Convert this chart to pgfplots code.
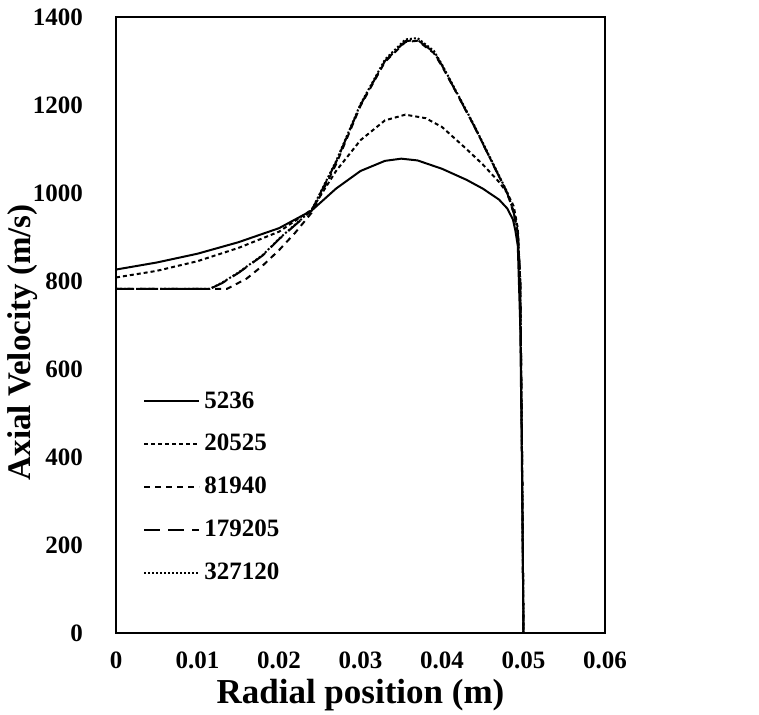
\documentclass[border=0pt]{standalone}
\usepackage{pgfplots}
\pgfplotsset{compat=1.18}
\usepackage{fontspec}
\setmainfont{Liberation Serif}
\begin{document}
\begin{tikzpicture}[x=0.5pt,y=0.5pt]
\useasboundingbox (0,0) rectangle (759,715);
\begin{axis}[
  at={(58pt,41pt)}, anchor=south west,
  scale only axis, width=244.5pt, height=308pt,
  xmin=0, xmax=0.06, ymin=0, ymax=1400,
  xtick={0,0.01,...,0.06}, ytick={0,200,...,1400},
  xticklabels={0,0.01,0.02,0.03,0.04,0.05,0.06},
  scaled x ticks=false,
  /pgf/number format/1000 sep={},
  major tick length=0pt,
  axis line style={line width=1pt},
  tick label style={font=\fontsize{12.5}{14}\selectfont\bfseries},
  /pgf/number format/assume math mode=true,
  xticklabel shift=6pt, yticklabel shift=13pt,
  xlabel={Radial position (m)}, ylabel={Axial Velocity (m/s)},
  label style={font=\fontsize{17.5}{20}\selectfont\bfseries},
  xlabel style={at={(axis description cs:0.5,-0.1)}, anchor=center},
  ylabel style={at={(axis description cs:-0.19,0.472)}, anchor=center, font=\fontsize{16.5}{19}\selectfont\bfseries},
  legend style={draw=none, fill=none, at={(axis description cs:0.055,0.399)}, anchor=north west,
    font=\fontsize{12.5}{14}\selectfont\bfseries, row sep=7.6pt, inner sep=0pt},
  legend cell align=left,
  legend image code/.code={\draw[#1] (0pt,0pt) -- (27.5pt,0pt);},
  every axis plot/.append style={line width=1pt, black},
]
\addplot[solid] coordinates {
(0,826) (0.005,842) (0.01,862) (0.015,888) (0.02,920) (0.024,960) (0.027,1010) (0.03,1050)
(0.033,1073) (0.035,1078) (0.037,1074) (0.04,1055) (0.043,1030) (0.045,1010) (0.047,985)
(0.048,965) (0.0487,940) (0.049,915) (0.0493,880) (0.0496,700) (0.0498,400) (0.05,0)};
\addlegendentry{5236}
\addplot[dash pattern=on 2pt off 1.5pt] coordinates {
(0,808) (0.005,823) (0.01,845) (0.015,875) (0.02,912) (0.024,962) (0.027,1050) (0.03,1120)
(0.033,1165) (0.0355,1178) (0.038,1170) (0.04,1150) (0.043,1100) (0.045,1065) (0.047,1025)
(0.048,1000) (0.0488,970) (0.0493,920) (0.0496,800) (0.0498,450) (0.05,0)};
\addlegendentry{20525}
\addplot[dash pattern=on 3pt off 2.5pt] coordinates {
(0,782) (0.0136,782) (0.016,805) (0.018,835) (0.02,870) (0.022,910) (0.024,955) (0.027,1065)
(0.03,1198) (0.033,1298) (0.0355,1343) (0.037,1346) (0.039,1318) (0.04,1288) (0.042,1220)
(0.044,1150) (0.046,1075) (0.048,1000) (0.0488,955) (0.0493,910) (0.0496,800) (0.0498,450) (0.05,0)};
\addlegendentry{81940}
\addplot[dash pattern=on 8pt off 4pt] coordinates {
(0,782) (0.0115,782) (0.013,795) (0.015,818) (0.018,858) (0.02,895) (0.024,960) (0.027,1070)
(0.03,1200) (0.033,1300) (0.0355,1345) (0.037,1348) (0.039,1320) (0.04,1290) (0.042,1220)
(0.044,1150) (0.046,1075) (0.048,1000) (0.0488,955) (0.0493,910) (0.0496,800) (0.0498,450) (0.05,0)};
\addlegendentry{179205}
\addplot[dash pattern=on 1pt off 1pt] coordinates {
(0,782) (0.0115,782) (0.013,796) (0.015,819) (0.018,859) (0.02,896) (0.024,961) (0.027,1072)
(0.03,1202) (0.033,1303) (0.0355,1349) (0.037,1352) (0.039,1323) (0.04,1292) (0.042,1222)
(0.044,1152) (0.046,1077) (0.048,1002) (0.0488,957) (0.0493,912) (0.0496,800) (0.0498,450) (0.05,0)};
\addlegendentry{327120}
\end{axis}
\end{tikzpicture}
\end{document}
